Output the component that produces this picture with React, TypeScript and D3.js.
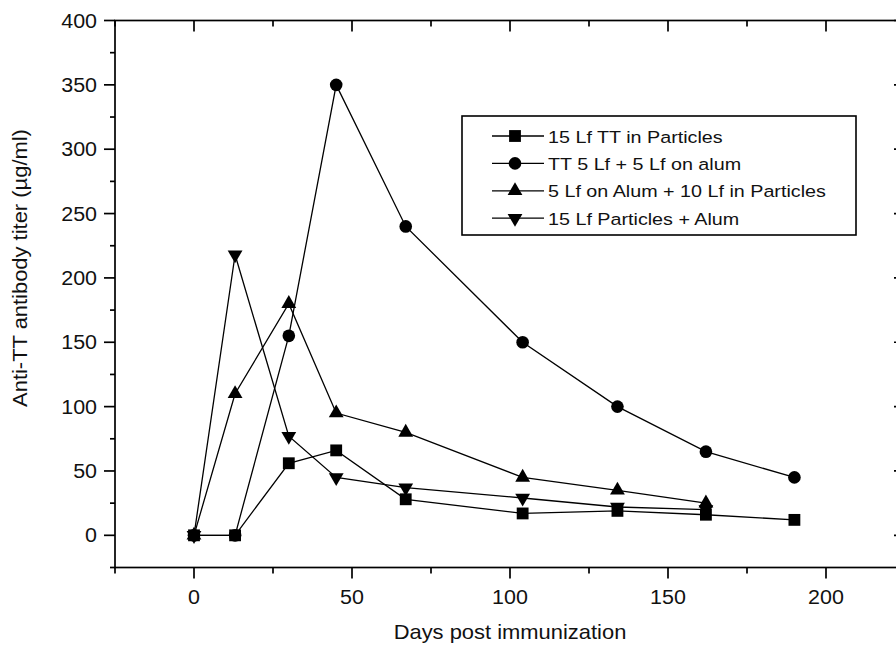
import React, { useEffect, useRef } from 'react';
import * as d3 from 'd3';

// days after immunization
const days = [0, 13, 30, 45, 67, 104, 134, 162, 190];

// anti-TT titer (µg/ml) per group
const ttParticles = [0, 0, 56, 66, 28, 17, 19, 16, 12];
const ttAlum = [0, 0, 155, 350, 240, 150, 100, 65, 45];
const alumPlusParticles = [0, 110, 180, 95, 80, 45, 35, 25];
const particlesPlusAlum = [0, 218, 77, 45, 37, 29, 22, 20];

const seriesNames = [
  '15 Lf TT in Particles',
  'TT 5 Lf + 5 Lf on alum',
  '5 Lf on Alum + 10 Lf in Particles',
  '15 Lf Particles + Alum',
];
const seriesMarkers = ['square', 'circle', 'triangle', 'triangleDown'];

const xTicks = [0, 50, 100, 150, 200];
const xMinor = [-25, 25, 75, 125, 175, 225];
const yTicks = [0, 50, 100, 150, 200, 250, 300, 350, 400];
const yMinor = [-25, 25, 75, 125, 175, 225, 275, 325, 375];

const W = 896;
const H = 645;
const FONT = '"Liberation Sans", Arial, sans-serif';

const App = () => {
  const ref = useRef<SVGSVGElement>(null);

  useEffect(() => {
    const svg = d3.select(ref.current);
    svg.selectAll('*').remove();

    const x = d3.scaleLinear().domain([-25, 225]).range([115, 905]);
    const y = d3.scaleLinear().domain([-25, 400]).range([567.5, 20.5]);
    const [x0, x1] = x.range();
    const [yb, yt] = y.range();

    // axes: left and bottom ticks point out, top and right ticks point in
    const axes = svg.append('g').attr('stroke', '#000').attr('stroke-width', 1.7);
    axes.append('rect')
      .attr('x', x0).attr('y', yt)
      .attr('width', x1 - x0).attr('height', yb - yt)
      .attr('fill', 'none');

    const tick = (x1_: number, y1_: number, x2_: number, y2_: number) =>
      axes.append('line').attr('x1', x1_).attr('y1', y1_).attr('x2', x2_).attr('y2', y2_);

    xTicks.forEach(v => {
      tick(x(v), yb, x(v), yb + 11);
      tick(x(v), yt, x(v), yt + 11);
    });
    xMinor.forEach(v => {
      tick(x(v), yb, x(v), yb + 6);
      tick(x(v), yt, x(v), yt + 6);
    });
    yTicks.forEach(v => {
      tick(x0, y(v), x0 - 11, y(v));
      tick(x1, y(v), x1 - 11, y(v));
    });
    yMinor.forEach(v => {
      tick(x0, y(v), x0 - 5, y(v));
      tick(x1, y(v), x1 - 6, y(v));
    });

    // tick labels (the scan is a little stretched sideways)
    const label = (tx: number, ty: number, text: string, anchor: string, size: number, sx: number, rot = 0) =>
      svg.append('text')
        .attr('transform', `translate(${tx},${ty}) rotate(${rot}) scale(${sx},1)`)
        .attr('text-anchor', anchor)
        .attr('font-family', FONT)
        .attr('font-size', size)
        .attr('fill', '#111')
        .text(text);

    yTicks.forEach(v => label(97, y(v) + 7, String(v), 'end', 19.5, 1.1));
    xTicks.forEach(v => label(x(v), 604, String(v), 'middle', 19.5, 1.1));

    label(510, 639, 'Days post immunization', 'middle', 20.5, 1.07);
    label(27, 268, 'Anti-TT antibody titer (µg/ml)', 'middle', 20.5, 1.07, -90);

    // series
    const allSeries = [ttParticles, ttAlum, alumPlusParticles, particlesPlusAlum];
    const line = d3.line<[number, number]>().x(d => x(d[0])).y(d => y(d[1]));

    const markerPath = (kind: string) => {
      if (kind === 'square') return d3.symbol().type(d3.symbolSquare).size(140)();
      if (kind === 'circle') return d3.symbol().type(d3.symbolCircle).size(125)();
      return d3.symbol().type(d3.symbolTriangle).size(95)();
    };

    const drawMarker = (g: any, kind: string, cx: number, cy: number) =>
      g.append('path')
        .attr('d', markerPath(kind))
        .attr('transform', `translate(${cx},${cy})${kind === 'triangleDown' ? ' rotate(180)' : ''}`)
        .attr('fill', '#000');

    allSeries.forEach((vals, i) => {
      const pts = vals.map((v, j) => [days[j], v] as [number, number]);
      const g = svg.append('g');
      g.append('path')
        .attr('d', line(pts))
        .attr('fill', 'none')
        .attr('stroke', '#000')
        .attr('stroke-width', 1.3);
      pts.forEach(p => drawMarker(g, seriesMarkers[i], x(p[0]), y(p[1])));
    });

    // legend
    const lg = svg.append('g');
    lg.append('rect')
      .attr('x', 462).attr('y', 116)
      .attr('width', 394).attr('height', 119)
      .attr('fill', '#fff')
      .attr('stroke', '#000')
      .attr('stroke-width', 1.6);
    seriesNames.forEach((name, i) => {
      const ry = 136 + i * 27.4;
      lg.append('line')
        .attr('x1', 492).attr('x2', 544)
        .attr('y1', ry).attr('y2', ry)
        .attr('stroke', '#000').attr('stroke-width', 1.3);
      drawMarker(lg, seriesMarkers[i], 515, ry);
      lg.append('text')
        .attr('transform', `translate(548,${ry + 6.5}) scale(1.14,1)`)
        .attr('font-family', FONT)
        .attr('font-size', 17.3)
        .attr('fill', '#111')
        .text(name);
    });
  }, []);

  return (
    <svg
      ref={ref}
      width={W}
      height={H}
      style={{ position: 'absolute', left: 0, top: 0, background: '#fff' }}
    ></svg>
  );
};

export default App;
